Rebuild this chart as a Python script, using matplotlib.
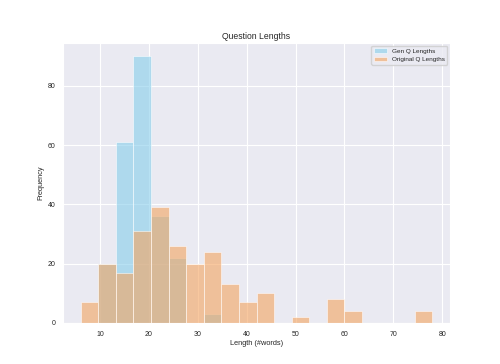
import numpy as np
import matplotlib
matplotlib.use('Agg')
import matplotlib.pyplot as plt
import seaborn as sns

# histogram counts per bin
bin_edges = np.linspace(6, 78, 21)
gen_counts = [0, 20, 61, 90, 36, 22, 0, 3, 0, 0, 0, 0, 0, 0, 0, 0, 0, 0, 0, 0]
orig_counts = [7, 20, 17, 31, 39, 26, 20, 24, 13, 7, 10, 0, 2, 0, 8, 4, 0, 0, 0, 4]

sns.set_style('darkgrid')
plt.rcParams['font.family'] = ['Liberation Sans', 'DejaVu Sans']

centers = (bin_edges[:-1] + bin_edges[1:]) / 2

fig, ax = plt.subplots(figsize=(5, 3.64), dpi=100)
fig.subplots_adjust(left=0.126, right=0.9, top=0.882, bottom=0.113)

ax.hist(centers, bins=bin_edges, weights=gen_counts, color='skyblue',
        alpha=0.6, edgecolor='white', linewidth=0.6, label='Gen Q Lengths')
ax.hist(centers, bins=bin_edges, weights=orig_counts, color='sandybrown',
        alpha=0.6, edgecolor='white', linewidth=0.6, label='Original Q Lengths')

ax.set_title('Question Lengths', fontsize=6.2, pad=2.5)
ax.set_xlabel('Length (#words)', fontsize=5.3, labelpad=1.5)
ax.set_ylabel('Frequency', fontsize=5.3, labelpad=2)
ax.tick_params(labelsize=5, pad=2)
ax.legend(loc='upper right', fontsize=4.6, handlelength=2.0, borderaxespad=0.4)

plt.savefig('out.png', dpi=100)
